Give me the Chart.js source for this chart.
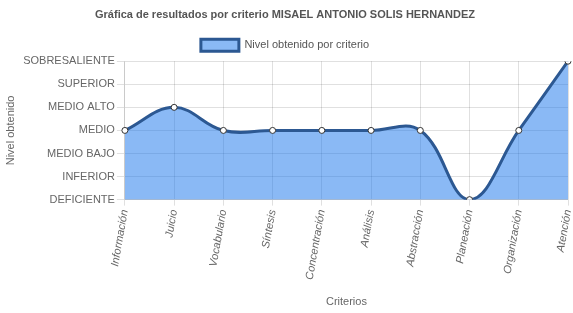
<!DOCTYPE html>
<html>
<head>
<meta charset="utf-8">
<script src="https://cdn.jsdelivr.net/npm/chart.js@4/dist/chart.umd.min.js"></script>
<style>
  html, body { margin: 0; padding: 0; background: #fff; }
  #wrap { width: 573px; height: 313px; }
</style>
</head>
<body>
<div id="wrap"><canvas id="nivelChart"></canvas></div>
<script>
var criterios = ['Información', 'Juicio', 'Vocabulario', 'Síntesis', 'Concentración', 'Análisis', 'Abstracción', 'Planeación', 'Organización', 'Atención'];
var niveles = [3, 4, 3, 3, 3, 3, 3, 0, 3, 6];
var nombresNivel = ['DEFICIENTE', 'INFERIOR', 'MEDIO BAJO', 'MEDIO', 'MEDIO ALTO', 'SUPERIOR', 'SOBRESALIENTE'];

Chart.defaults.font.family = '"Liberation Sans", Arial, sans-serif';
Chart.defaults.color = '#666';

var ctx = document.getElementById('nivelChart').getContext('2d');
var myChart = new Chart(ctx, {
    type: 'line',
    data: {
        labels: criterios,
        datasets: [{
            label: 'Nivel obtenido por criterio',
            data: niveles,
            fill: true,
            tension: 0.4,
            backgroundColor: 'rgba(21, 115, 235, 0.5)',
            borderColor: 'rgba(44, 88, 146, 1)',
            borderWidth: 3,
            pointRadius: 3,
            pointBorderWidth: 1,
            pointBackgroundColor: '#fff',
            pointBorderColor: '#333'
        }]
    },
    options: {
        responsive: true,
        maintainAspectRatio: false,
        animation: false,
        layout: { padding: { left: 0, right: 3, top: 0, bottom: 0 } },
        plugins: {
            title: {
                display: true,
                text: 'Gráfica de resultados por criterio MISAEL ANTONIO SOLIS HERNANDEZ',
                color: '#555',
                font: { size: 11, weight: 'bold' },
                padding: { top: 8, bottom: 12 }
            },
            legend: {
                labels: {
                    boxWidth: 38,
                    boxHeight: 12,
                    padding: 6,
                    font: { size: 11 },
                    color: '#555'
                }
            },
            tooltip: { enabled: false }
        },
        scales: {
            x: {
                offset: false,
                grid: { color: 'rgba(0,0,0,0.12)', tickLength: 6 },
                ticks: {
                    maxRotation: 80,
                    minRotation: 80,
                    font: { size: 11, style: 'italic' }
                },
                title: { display: true, text: 'Criterios', font: { size: 11 }, padding: { top: 12 } },
                afterFit: function(scale) { scale.paddingRight = 0; }
            },
            y: {
                min: 0,
                max: 6,
                grid: { color: 'rgba(0,0,0,0.12)', tickLength: 8 },
                ticks: {
                    stepSize: 1,
                    font: { size: 11 },
                    padding: 2,
                    callback: function(value) { return nombresNivel[value]; }
                },
                title: { display: true, text: 'Nivel obtenido', font: { size: 11 } }
            }
        }
    }
});
</script>
</body>
</html>
